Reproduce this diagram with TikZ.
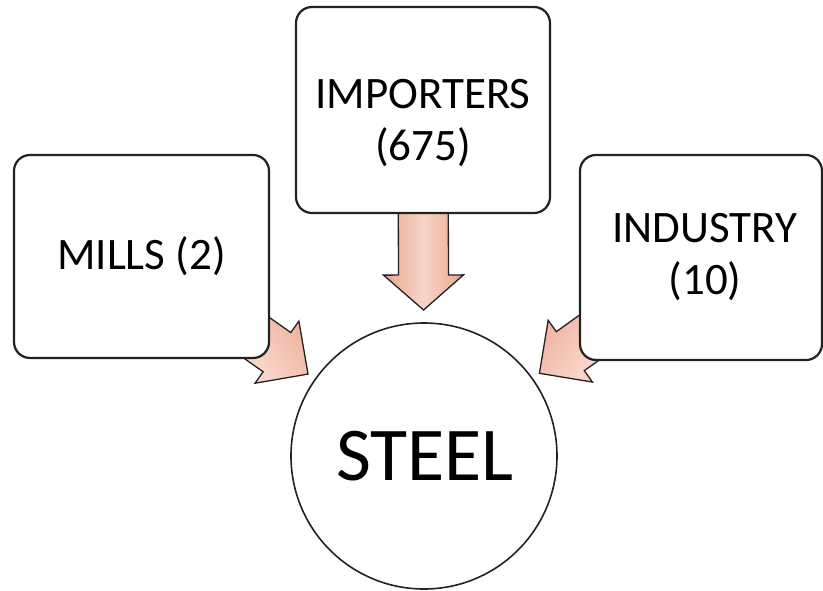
\documentclass[tikz,border=0pt]{standalone}
\usepackage{fontspec}
\setmainfont{Carlito}
\usetikzlibrary{calc,backgrounds}

\definecolor{arrowlight}{RGB}{248,214,202}
\definecolor{arrowdark}{RGB}{236,164,142}
\definecolor{edgegray}{RGB}{34,34,34}

\tikzset{
  sourcebox/.style={draw=edgegray, line width=2.2pt, fill=white, rounded corners=16pt,
    align=center, inner sep=0pt, font=\fontsize{45}{52}\selectfont},
  hubcircle/.style={draw=edgegray, line width=1.6pt, fill=white, circle, inner sep=0pt,
    font=\fontsize{76}{84}\selectfont},
  arrowbody/.style={draw=edgegray, line width=1.3pt, line join=miter,
    left color=arrowdark, right color=arrowdark, middle color=arrowlight}
}

% block arrow: #1 start, #2 tip, #3 shaft half width, #4 head half width,
% #5 head length, #6 shading angle
\newcommand\flowarrow[6]{%
  \coordinate (fa-base) at ($(#2)!#5!(#1)$);
  \path[arrowbody, shading angle=#6]
    ($(#1)!#3!90:(#2)$) -- ($(fa-base)!#3!90:(#2)$) -- ($(fa-base)!#4!90:(#2)$)
    -- (#2) -- ($(fa-base)!#4!-90:(#2)$) -- ($(fa-base)!#3!-90:(#2)$)
    -- ($(#1)!#3!-90:(#2)$) -- cycle;
}

\begin{document}
\begin{tikzpicture}[x=1pt, y=-1pt]
  \useasboundingbox (0,0) rectangle (823,590);

  \node[sourcebox, minimum width=255pt, minimum height=203pt] (mills) at (141.5,256.5) {MILLS (2)};
  \node[sourcebox, minimum width=254pt, minimum height=206pt] (imp) at (423,110)
    {\rule{0pt}{56pt}IMPORTERS\\(675)};
  \node[sourcebox, minimum width=242pt, minimum height=205pt] (ind) at (701,257.5)
    {\hspace*{8pt}INDUSTRY\\\hspace*{8pt}(10)};
  \node[hubcircle, minimum size=266pt] (steel) at (424,456) {\hspace*{2pt}STEEL};

  \coordinate (tipmills) at ($(steel.center)!142pt!(mills.center)$);
  \coordinate (tipimp) at ($(steel.center)!146pt!(imp.center)$);
  \coordinate (tipind) at ($(steel.center)!142pt!(ind.center)$);

  \begin{pgfonlayer}{background}
    \flowarrow{mills.center}{tipmills}{24pt}{38pt}{38pt}{-54}
    \flowarrow{imp.center}{tipimp}{25pt}{40pt}{35pt}{90}
    \flowarrow{ind.center}{tipind}{24pt}{38pt}{38pt}{54}
  \end{pgfonlayer}
\end{tikzpicture}
\end{document}
